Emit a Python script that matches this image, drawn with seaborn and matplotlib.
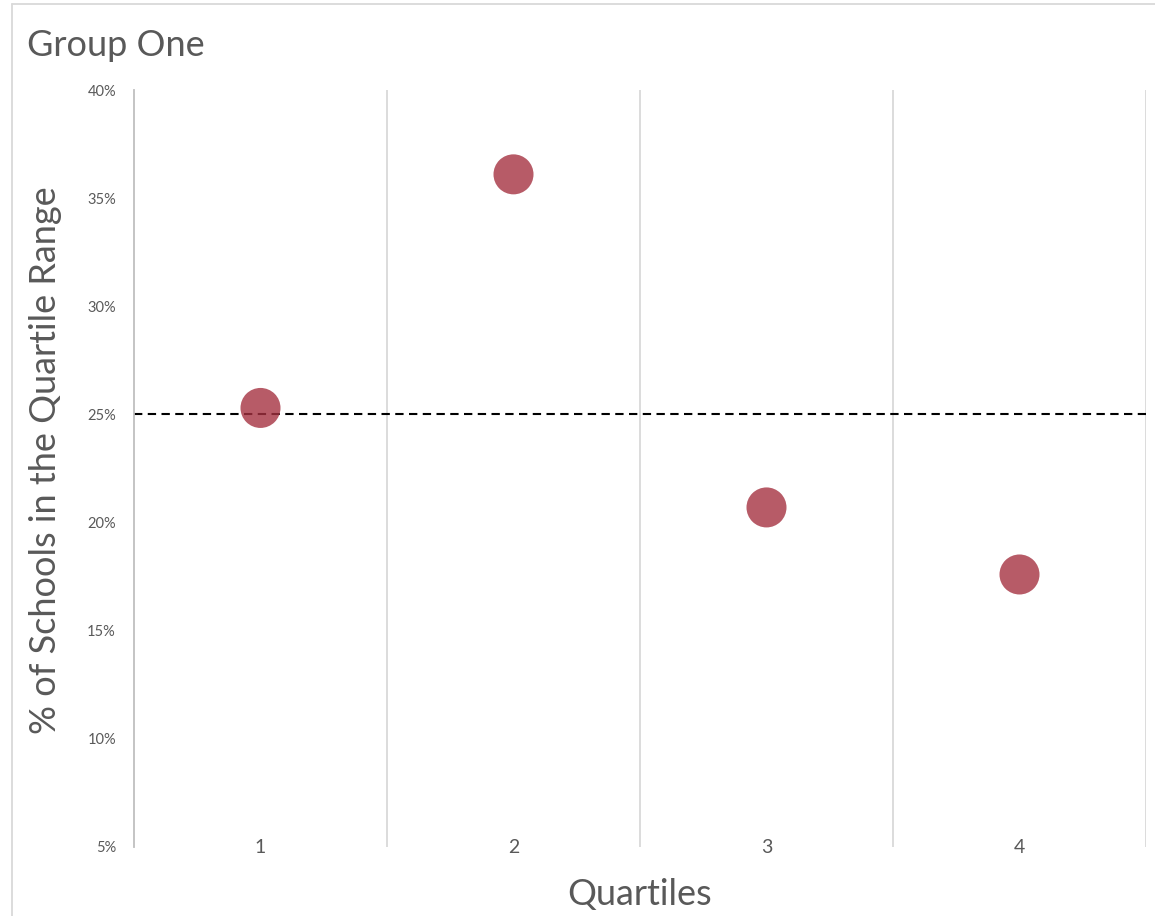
import matplotlib
matplotlib.use("Agg")
import matplotlib.pyplot as plt
from matplotlib.lines import Line2D
import seaborn as sns
import pandas as pd

# Data
quartiles = ["1", "2", "3", "4"]
share_of_schools = [0.253, 0.361, 0.207, 0.176]
reference_share = 0.25
y_ticks = [0.05, 0.10, 0.15, 0.20, 0.25, 0.30, 0.35, 0.40]
y_tick_labels = ["5%", "10%", "15%", "20%", "25%", "30%", "35%", "40%"]

df = pd.DataFrame({"Quartile": quartiles, "Share": share_of_schools})

sns.set_theme(style="white")
plt.rcParams["font.family"] = ["Lato", "DejaVu Sans"]

W, H = 1155, 916
fig = plt.figure(figsize=(W / 100, H / 100), dpi=100)
left, right, top, bottom = 134, 1146, 90, 847
ax = fig.add_axes([left / W, 1 - bottom / H, (right - left) / W, (bottom - top) / H])

text_color = "#595959"
grid_color = "#d9d9d9"

sns.scatterplot(data=df, x="Quartile", y="Share", ax=ax, s=830,
                color="#A53241", alpha=0.8, edgecolor="none", zorder=3,
                legend=False)

ax.axhline(reference_share, color="black", lw=1.5, ls=(0, (4, 2.6)), zorder=2)

ax.set_xlim(-0.5, len(quartiles) - 0.5)
ax.set_ylim(y_ticks[0], y_ticks[-1])
ax.set_yticks(y_ticks)
ax.set_yticklabels(y_tick_labels)

# category boundary gridlines
for b in [i + 0.5 for i in range(len(quartiles) - 1)] + [len(quartiles) - 0.5]:
    ax.axvline(b, color=grid_color, lw=1.3, zorder=1)

for side in ["top", "right", "bottom"]:
    ax.spines[side].set_visible(False)
ax.spines["left"].set_color("#bfbfbf")
ax.spines["left"].set_linewidth(1.3)

ax.tick_params(axis="y", length=0, pad=13, labelsize=10.5, labelcolor=text_color)
ax.tick_params(axis="x", length=0, pad=-6, labelsize=14, labelcolor=text_color)

ax.set_xlabel("Quartiles", fontsize=26, color=text_color, labelpad=16)
ax.set_ylabel("% of Schools in the Quartile Range", fontsize=26,
              color=text_color)
ax.yaxis.set_label_coords(-0.071, 0.511)

fig.text(27 / W, 1 - 46 / H, "Group One", fontsize=26, color=text_color,
         ha="left", va="center")

# chart frame
fig.add_artist(Line2D([12 / W, 12 / W], [0, 1 - 4 / H], transform=fig.transFigure,
                      color=grid_color, lw=1.3))
fig.add_artist(Line2D([12 / W, 1], [1 - 4 / H, 1 - 4 / H], transform=fig.transFigure,
                      color=grid_color, lw=1.3))

fig.savefig("out.png", dpi=100, facecolor="white")
